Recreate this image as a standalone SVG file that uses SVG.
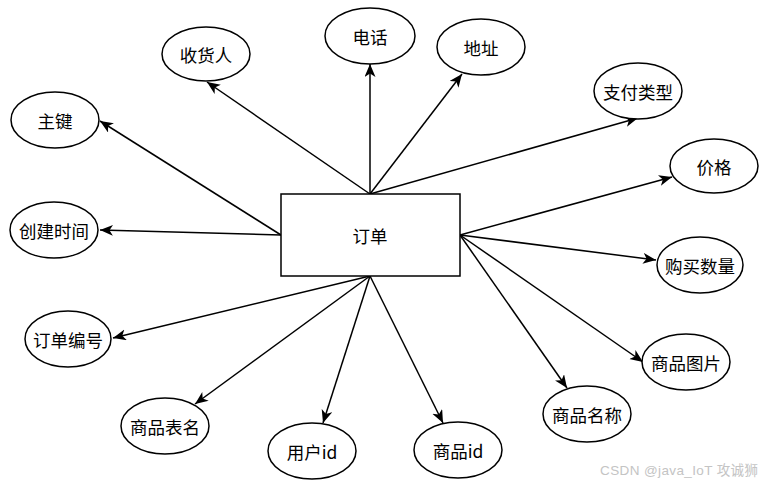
<svg xmlns="http://www.w3.org/2000/svg" width="765" height="485" viewBox="0 0 765 485">
<style>
.n ellipse, .n rect { fill: #ffffff; stroke: #000000; stroke-width: 1.5; }
.n text { font-family: "Noto Sans CJK SC", "Liberation Sans", sans-serif; font-size: 17.5px; fill: #000000; text-anchor: middle; dominant-baseline: central; }
#edges line { stroke: #000000; stroke-width: 1.5; marker-end: url(#arr); }
.wm { font-family: "Liberation Sans", "Noto Sans CJK SC", sans-serif; font-size: 13.5px; fill: #c4c4c4; }
</style>
<defs>
<marker id="arr" markerUnits="userSpaceOnUse" markerWidth="14" markerHeight="12" refX="13" refY="5.5" orient="auto">
<path d="M0,0 L13,5.5 L0,11 L3.5,5.5 Z" fill="#000000"/>
</marker>
</defs>
<rect width="765" height="485" fill="#ffffff"/>
<g id="edges">
<line x1="370" y1="194" x2="207" y2="82"/>
<line x1="370" y1="194" x2="370" y2="64"/>
<line x1="370" y1="194" x2="462" y2="74"/>
<line x1="370" y1="194" x2="638" y2="118"/>
<line x1="460" y1="235" x2="672" y2="177"/>
<line x1="460" y1="235" x2="656" y2="260"/>
<line x1="460" y1="235" x2="643" y2="362"/>
<line x1="460" y1="235" x2="567" y2="388"/>
<line x1="281" y1="235" x2="100" y2="121"/>
<line x1="281" y1="235" x2="100" y2="230"/>
<line x1="370" y1="276" x2="113" y2="338"/>
<line x1="370" y1="276" x2="195" y2="404"/>
<line x1="370" y1="276" x2="323" y2="423"/>
<line x1="370" y1="276" x2="443" y2="423"/>
</g>
<g id="order" class="n"><rect x="281" y="194" width="179" height="82"/><text x="370" y="235" font-size="18">订单</text></g>
<g id="shouhuoren" class="n"><ellipse cx="206" cy="54" rx="44" ry="27"/><text x="206" y="54">收货人</text></g>
<g id="dianhua" class="n"><ellipse cx="370" cy="36" rx="45" ry="28"/><text x="370" y="36">电话</text></g>
<g id="dizhi" class="n"><ellipse cx="481" cy="47" rx="44" ry="28"/><text x="481" y="47">地址</text></g>
<g id="zhifuleixing" class="n"><ellipse cx="638" cy="91" rx="44" ry="28"/><text x="638" y="91">支付类型</text></g>
<g id="jiage" class="n"><ellipse cx="714" cy="166" rx="44" ry="27"/><text x="714" y="166">价格</text></g>
<g id="zhujian" class="n"><ellipse cx="55" cy="120" rx="44" ry="28"/><text x="55" y="120">主键</text></g>
<g id="chuangjianshijian" class="n"><ellipse cx="54" cy="230" rx="44" ry="28"/><text x="54" y="230">创建时间</text></g>
<g id="goumaishuliang" class="n"><ellipse cx="700" cy="265" rx="43" ry="28"/><text x="700" y="265">购买数量</text></g>
<g id="shangpintupian" class="n"><ellipse cx="686" cy="362" rx="44" ry="28"/><text x="686" y="362">商品图片</text></g>
<g id="shangpinmingcheng" class="n"><ellipse cx="587" cy="414" rx="44" ry="28"/><text x="587" y="414">商品名称</text></g>
<g id="shangpinid" class="n"><ellipse cx="458" cy="450" rx="44" ry="28"/><text x="458" y="450">商品id</text></g>
<g id="dingdanbianhao" class="n"><ellipse cx="68" cy="339" rx="43" ry="28"/><text x="68" y="339">订单编号</text></g>
<g id="shangpinbiaoming" class="n"><ellipse cx="165" cy="426" rx="44" ry="28"/><text x="165" y="426">商品表名</text></g>
<g id="yonghuid" class="n"><ellipse cx="312" cy="451" rx="44" ry="28"/><text x="312" y="451">用户id</text></g>
<text class="wm" x="600" y="475" textLength="158" lengthAdjust="spacing">CSDN @java_IoT 攻诚狮</text>
</svg>
